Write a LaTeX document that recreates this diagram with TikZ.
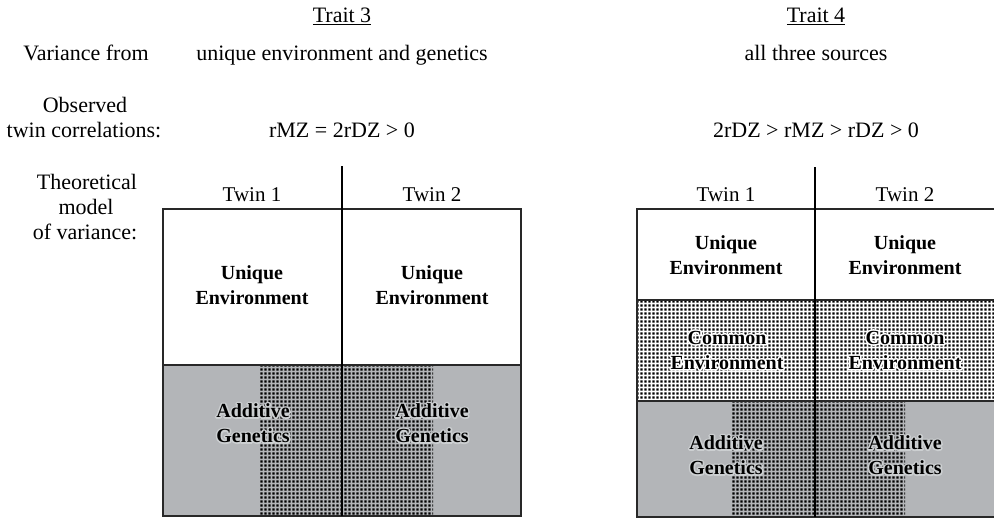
\documentclass[tikz,border=0pt]{standalone}
\usepackage{fontspec}
\setmainfont{Liberation Serif}
\usetikzlibrary{patterns}
\pgfdeclarepatternformonly{densesq}{\pgfpoint{0pt}{0pt}}{\pgfpoint{4pt}{4pt}}{\pgfpoint{4pt}{4pt}}{\pgfpathrectangle{\pgfpoint{0.5pt}{0.5pt}}{\pgfpoint{2.9pt}{2.9pt}}\pgfusepath{fill}}
\definecolor{geneg}{RGB}{179,181,184}
\definecolor{lineg}{RGB}{40,40,40}
\newcommand{\hl}[2]{\leavevmode\rlap{\special{pdf:code q 1 Tr 3.2 w 1 j 1 J #1 RG}#2\special{pdf:code Q}}#2}
\begin{document}
\begin{tikzpicture}[x=1pt,y=-1pt,
  txt/.style={font=\fontsize{22}{24}\selectfont, inner sep=0pt, anchor=base},
  twin/.style={font=\fontsize{21}{24}\selectfont, inner sep=0pt, anchor=base},
  lbl/.style={font=\bfseries\fontsize{20}{25}\selectfont, align=center, inner sep=0pt},
  outline/.style={draw=lineg, line width=1.5pt},
  divider/.style={draw=black, line width=2.6pt},
  sep/.style={draw=lineg, line width=1.5pt}]
\useasboundingbox (0,0) rectangle (994,519);
% header texts
\node[txt] (t3) at (342,23) {\underline{Trait 3}};
\node[txt] (t4) at (816,23) {\underline{Trait 4}};
\node[txt] (vf) at (86,61) {Variance from};
\node[txt] (v3) at (342,61) {unique environment and genetics};
\node[txt] (v4) at (816,61) {all three sources};
\node[txt] (ob1) at (85,113) {Observed};
\node[txt] (ob2) at (84,137) {twin correlations:};
\node[txt] (c3) at (342,137) {rMZ = 2rDZ > 0};
\node[txt] (c4) at (816,137) {2rDZ > rMZ > rDZ > 0};
\node[txt] (th1) at (87,189) {Theoretical};
\node[txt] (th2) at (86,214) {model};
\node[txt] (th3) at (85,239) {of variance:};
\node[twin] (l1) at (252,201) {Twin 1};
\node[twin] (l2) at (432,201) {Twin 2};
\node[twin] (r1) at (726,201) {Twin 1};
\node[twin] (r2) at (905,201) {Twin 2};
% left box fills
\fill[geneg] (163,365) rectangle (521,516);
\fill[pattern=densesq] (260,365) rectangle (433,516);
% right box fills
\fill[pattern=densesq] (637,300) rectangle (998,401);
\fill[geneg] (637,401) rectangle (998,517);
\fill[pattern=densesq] (732,401) rectangle (905,517);
% lines
\draw[sep] (163,365) -- (521,365);
\draw[outline] (163,209) rectangle (521,516);
\draw[divider] (342,166) -- (342,516);
\draw[sep] (637,300) -- (998,300);
\draw[sep] (637,401) -- (998,401);
\draw[outline] (637,209) rectangle (998,517);
\draw[divider] (815,167) -- (815,517);
% labels
\node[lbl] (lu1) at (252,285) {Unique\\Environment};
\node[lbl] (lu2) at (432,285) {Unique\\Environment};
\node[lbl] (la1) at (253,423) {\hl{0.8 0.81 0.82}{Additive}\\\hl{0.8 0.81 0.82}{Genetics}};
\node[lbl] (la2) at (432,423) {\hl{0.8 0.81 0.82}{Additive}\\\hl{0.8 0.81 0.82}{Genetics}};
\node[lbl] (ru1) at (726,255) {Unique\\Environment};
\node[lbl] (ru2) at (905,255) {Unique\\Environment};
\node[lbl] (rc1) at (727,350) {\hl{1 1 1}{Common}\\\hl{1 1 1}{Environment}};
\node[lbl] (rc2) at (905,350) {\hl{1 1 1}{Common}\\\hl{1 1 1}{Environment}};
\node[lbl] (ra1) at (726,455) {\hl{0.8 0.81 0.82}{Additive}\\\hl{0.8 0.81 0.82}{Genetics}};
\node[lbl] (ra2) at (905,455) {\hl{0.8 0.81 0.82}{Additive}\\\hl{0.8 0.81 0.82}{Genetics}};
\end{tikzpicture}
\end{document}
